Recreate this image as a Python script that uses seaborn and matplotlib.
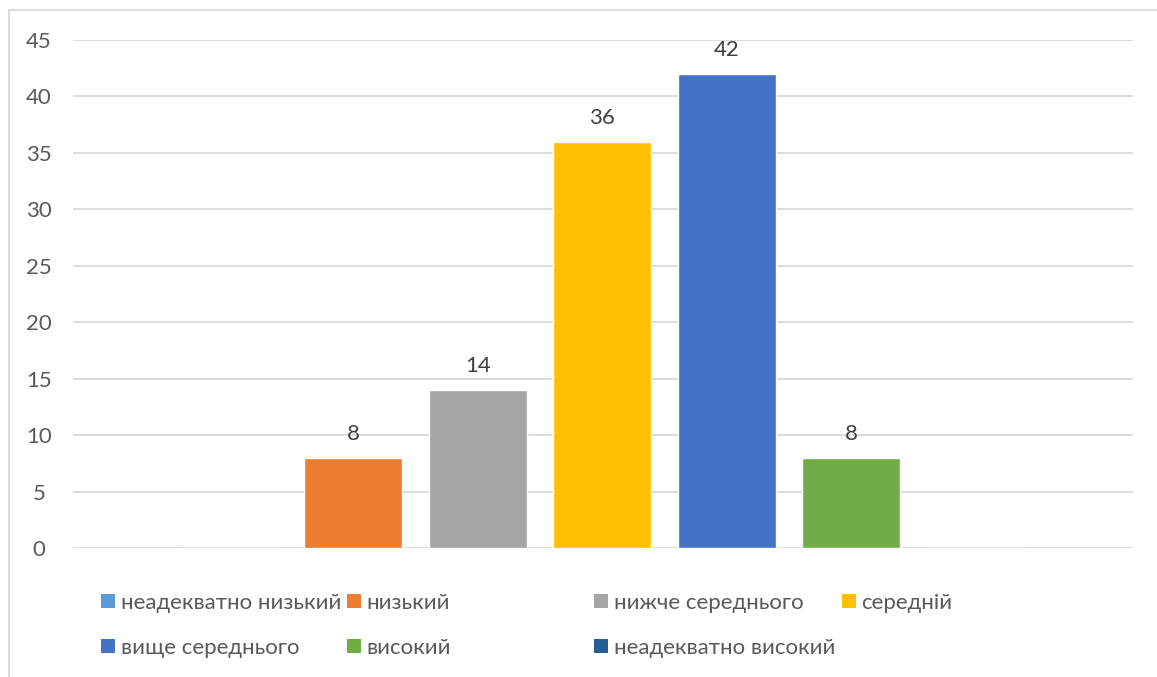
import matplotlib
matplotlib.use("Agg")
import matplotlib.pyplot as plt
from matplotlib.patches import Rectangle, Patch
import seaborn as sns
import pandas as pd

# Levels and their counts
levels = ["неадекватно низький", "низький", "нижче середнього", "середній",
          "вище середнього", "високий", "неадекватно високий"]
counts = [0, 8, 14, 36, 42, 8, 0]
colors = ["#5B9BD5", "#ED7D31", "#A5A5A5", "#FFC000",
          "#4472C4", "#70AD47", "#255E91"]
y_ticks = [0, 5, 10, 15, 20, 25, 30, 35, 40, 45]

sns.set_theme(style="white")
plt.rcParams["font.family"] = ["Lato", "DejaVu Sans"]

W, H = 1157, 677
FS = 16
fig = plt.figure(figsize=(W / 100, H / 100), dpi=100)

# plot area in pixels: x 73..1133, y 40..548
x0, x1, ytop, ybot = 73, 1133, 40, 548
ax = fig.add_axes([x0 / W, 1 - ybot / H, (x1 - x0) / W, (ybot - ytop) / H])

df = pd.DataFrame({"level": levels, "count": counts})
sns.barplot(data=df, x="level", y="count", hue="level", palette=colors,
            order=levels, hue_order=levels, dodge=False, width=0.787,
            legend=False, ax=ax, saturation=1)

ax.set_xlim(-1.25, 7.265)
ax.set_ylim(0, 45)
ax.set_yticks(y_ticks)
ax.yaxis.grid(True, color="#D9D9D9", linewidth=1.3)
ax.set_axisbelow(True)
for s in ax.spines.values():
    s.set_visible(False)
ax.set_xticks([])
ax.set_xlabel("")
ax.set_ylabel("")
ax.tick_params(axis="y", length=0, pad=24.5, labelsize=FS, labelcolor="#595959")
for lab in ax.get_yticklabels():
    lab.set_horizontalalignment("center")

# value labels above non-zero bars
for i, v in enumerate(counts):
    if v > 0:
        ax.annotate(str(v), (i, v), xytext=(0, 13), textcoords="offset points",
                    ha="center", va="baseline", fontsize=FS, color="#404040")

# legend: four fixed-width columns, filled row by row
handles = [Patch(facecolor=c, edgecolor="none") for c in colors]
col_x = [101, 347, 594, 842]
ncol = 4
for c, px in enumerate(col_x):
    idx = list(range(c, len(levels), ncol))
    leg = fig.legend([handles[i] for i in idx], [levels[i] for i in idx],
                     loc="upper left", bbox_to_anchor=(px / W, 1 - 593 / H),
                     frameon=False, fontsize=FS, borderpad=0, borderaxespad=0,
                     handlelength=0.63, handleheight=0.63,
                     handletextpad=0.25, labelspacing=1.12)
    for t in leg.get_texts():
        t.set_color("#595959")

# chart frame
fig.patches.append(Rectangle((9 / W, -0.1), 1.2, 1 - 10 / H + 0.1,
                             transform=fig.transFigure, fill=False,
                             edgecolor="#D9D9D9", linewidth=1.3))

fig.savefig("out.png", dpi=100)
